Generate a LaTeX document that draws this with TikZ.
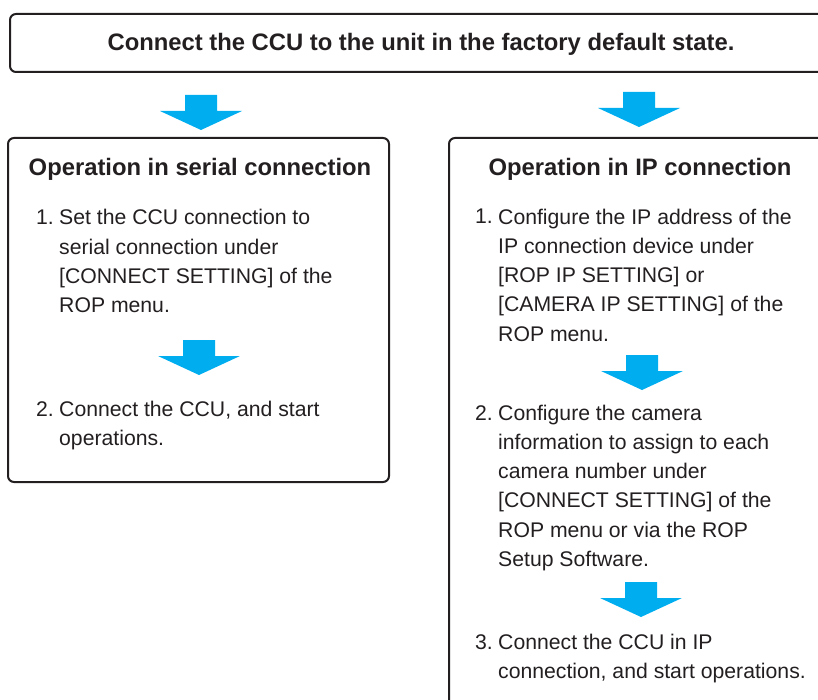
\documentclass[tikz,border=0pt]{standalone}
\usepackage{fontspec}
\setmainfont{Liberation Sans}
\definecolor{arrowblue}{RGB}{0,174,239}
\definecolor{framegray}{RGB}{35,31,32}
\newcommand{\bluearrow}[1]{\fill[arrowblue] #1 ++(-16,0) -- ++(32,0) -- ++(0,16) -- ++(25,0) -- ++(-41,19) -- ++(-41,-19) -- ++(25,0) -- cycle;}

\begin{document}
\begin{tikzpicture}[x=1pt, y=-1pt]

\tikzstyle{panel}=[draw=framegray, line width=2pt, rounded corners=6pt,
    inner sep=0pt, anchor=north west]
\tikzstyle{heading}=[font=\fontsize{23.8}{28}\selectfont\bfseries,
    text=framegray, inner sep=0pt, anchor=base]
\tikzstyle{item}=[font=\fontsize{21.2}{29.3}\selectfont, text=framegray,
    align=left, inner sep=0pt, anchor=base west]

  \useasboundingbox (0,0) rectangle (818,700);
  \clip (0,0) rectangle (818,700);

  % start box
  \node[panel, minimum width=824pt, minimum height=58pt] (start) at (9,13) {};
  \node[heading] (starttext) at (421,51) {Connect the CCU to the unit in the factory default state.};

  % serial connection (base = last line)
  \node[panel, minimum width=381pt, minimum height=344pt] (serial) at (7,137) {};
  \node[heading] (serialhead) at (200,176) {Operation in serial connection};
  \node[item] (serialnum1) at (36,225) {1.};
  \node[item] (serialstep1) at (59,312.9) {Set the CCU connection to\\serial connection under\\{[CONNECT SETTING]} of the\\ROP menu.};
  \node[item] (serialnum2) at (36,416) {2.};
  \node[item] (serialstep2) at (59,445.3) {Connect the CCU, and start\\operations.};

  % IP connection
  \node[panel, minimum width=385pt, minimum height=600pt] (ip) at (448,137) {};
  \node[heading] (iphead) at (640,176) {Operation in IP connection};
  \node[item] (ipnum1) at (475,224) {1.};
  \node[item] (ipstep1) at (498,341.2) {Configure the IP address of the\\IP connection device under\\{[ROP IP SETTING]} or\\{[CAMERA IP SETTING]} of the\\ROP menu.};
  \node[item] (ipnum2) at (475,420) {2.};
  \node[item] (ipstep2) at (498,566.5) {Configure the camera\\information to assign to each\\camera number under\\{[CONNECT SETTING]} of the\\ROP menu or via the ROP\\Setup Software.};
  \node[item] (ipnum3) at (475,649) {3.};
  \node[item] (ipstep3) at (498,678.3) {Connect the CCU in IP\\connection, and start operations.};

  % arrows
  \bluearrow{(201,95)}
  \bluearrow{(639,92)}
  \bluearrow{(199,340)}
  \bluearrow{(642,355)}
  \bluearrow{(641,582)}

\end{tikzpicture}
\end{document}
